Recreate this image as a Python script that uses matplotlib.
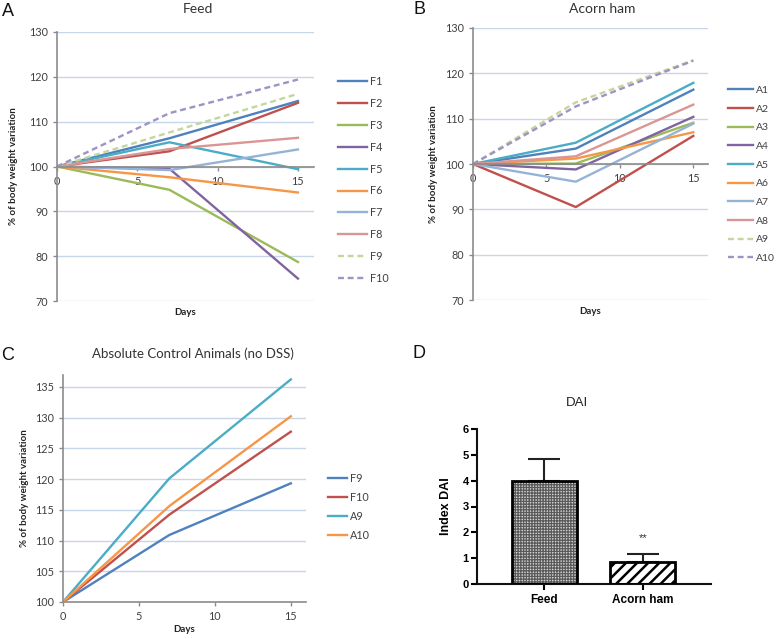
import matplotlib
matplotlib.use('Agg')
import matplotlib.pyplot as plt

# ---------------- data ----------------
days = [0, 7, 15]

feed_labels = ['F1', 'F2', 'F3', 'F4', 'F5', 'F6', 'F7', 'F8', 'F9', 'F10']
feed_values = [
    [100, 106.3, 114.6],   # F1
    [100, 103.4, 114.2],   # F2
    [100, 94.8, 78.7],     # F3
    [100, 99.5, 75.0],     # F4
    [100, 105.4, 99.4],    # F5
    [100, 97.6, 94.2],     # F6
    [100, 99.2, 103.8],    # F7
    [100, 103.9, 106.4],   # F8
    [100, 107.6, 116.2],   # F9
    [100, 111.9, 119.4],   # F10
]

acorn_labels = ['A1', 'A2', 'A3', 'A4', 'A5', 'A6', 'A7', 'A8', 'A9', 'A10']
acorn_values = [
    [100, 103.4, 116.4],   # A1
    [100, 90.5, 106.2],    # A2
    [100, 100.1, 109.1],   # A3
    [100, 98.8, 110.4],    # A4
    [100, 104.7, 117.9],   # A5
    [100, 101.2, 107.0],   # A6
    [100, 96.1, 108.9],    # A7
    [100, 101.7, 113.1],   # A8
    [100, 113.6, 122.9],   # A9
    [100, 112.7, 122.8],   # A10
]

control_labels = ['F9', 'F10', 'A9', 'A10']
control_values = [
    [100, 110.9, 119.3],
    [100, 114.2, 127.7],
    [100, 120.1, 136.2],
    [100, 115.6, 130.2],
]

dai_groups = ['Feed', 'Acorn ham']
dai_means = [3.98, 0.86]
dai_sem = [0.86, 0.31]

# ---------------- styles ----------------
line_colors = ['#4F81BD', '#C0504D', '#9BBB59', '#8064A2', '#4BACC6',
               '#F79646', '#95B3D7', '#DA9694', '#C3D69B', '#A092C4']
line_styles = ['-'] * 8 + ['--', '--']
control_colors = ['#4F81BD', '#C0504D', '#4BACC6', '#F79646']

W, H = 778, 639
fig = plt.figure(figsize=(W / 100, H / 100), dpi=100)

def add_axes(l, t, r, b):
    return fig.add_axes([l / W, 1 - b / H, (r - l) / W, (b - t) / H])

XL_FONT = 'Lato'
GRID = '#c8d6ea'
AXC = '#8c8c8c'
TXT = '#404040'

def excel_style(ax, ylim, yticks, cross):
    ax.set_xlim(0, 16)
    ax.set_ylim(*ylim)
    ax.set_yticks(yticks)
    ax.set_xticks([0, 5, 10, 15])
    ax.grid(axis='y', color=GRID, lw=1.0)
    ax.set_axisbelow(True)
    for s in ['top', 'right']:
        ax.spines[s].set_visible(False)
    ax.spines['left'].set_color(AXC)
    ax.spines['bottom'].set_color(AXC)
    ax.spines['left'].set_linewidth(1.2)
    ax.spines['bottom'].set_linewidth(1.2)
    ax.spines['bottom'].set_position(('data', cross))
    ax.tick_params(axis='both', colors=AXC, labelcolor=TXT, length=3,
                   width=1, labelsize=7.8, direction='out')
    for lab in ax.get_xticklabels() + ax.get_yticklabels():
        lab.set_fontfamily(XL_FONT)

def panel_lines(ax, labels, values, colors, styles, lw=1.7):
    for lab, vals, c, ls in zip(labels, values, colors, styles):
        if ls == '--':
            ax.plot(days, vals, color=c, lw=lw, ls=(0, (2.5, 1.6)), label=lab)
        else:
            ax.plot(days, vals, color=c, lw=lw, ls=ls, label=lab)

def labels_xy(ax, ylab_x, days_y):
    ax.set_ylabel('% of body weight variation', fontfamily=XL_FONT,
                  fontweight='bold', fontsize=7, color='#222222')
    ax.yaxis.set_label_coords(ylab_x, 0.5)
    ax.set_xlabel('Days', fontfamily=XL_FONT, fontweight='bold',
                  fontsize=7, color='#222222')
    ax.xaxis.set_label_coords(0.5, days_y)

def legend(ax, x, y, hl, ls, size=7.8):
    leg = ax.legend(loc='center left', bbox_to_anchor=(x, y), frameon=False,
                    borderaxespad=0, borderpad=0, handlelength=hl,
                    handletextpad=0.25, labelspacing=ls,
                    prop={'family': XL_FONT, 'size': size})
    for t in leg.get_texts():
        t.set_color(TXT)

# ---------------- A ----------------
axA = add_axes(57, 32, 314, 301)
excel_style(axA, (70, 130), [70, 80, 90, 100, 110, 120, 130], 100)
panel_lines(axA, feed_labels, feed_values, line_colors, line_styles)
labels_xy(axA, -0.150, -0.025)
legend(axA, 1.093, 0.45, 2.7, 1.0)

# ---------------- B ----------------
axB = add_axes(473, 28, 708, 300)
excel_style(axB, (70, 130), [70, 80, 90, 100, 110, 120, 130], 100)
panel_lines(axB, acorn_labels, acorn_values, line_colors, line_styles)
labels_xy(axB, -0.150, -0.025)
legend(axB, 1.085, 0.462, 2.4, 0.9, size=7.5)

# ---------------- C ----------------
axC = add_axes(63, 374.5, 306, 602)
excel_style(axC, (100, 137), [100, 105, 110, 115, 120, 125, 130, 135], 100)
panel_lines(axC, control_labels, control_values, control_colors, ['-'] * 4)
labels_xy(axC, -0.14, -0.10)
legend(axC, 1.09, 0.418, 1.8, 0.74)

# ---------------- D ----------------
axD = add_axes(477, 429, 711, 584)
xpos = list(range(len(dai_groups)))
plt.rcParams['hatch.linewidth'] = 0.9
axD.bar(xpos[0], dai_means[0], width=0.66, color='#d4d4d4',
        edgecolor='#5a5a5a', hatch='++++++', lw=0, zorder=2)
plt.rcParams['hatch.linewidth'] = 1.8
axD.bar(xpos[1], dai_means[1], width=0.66, color='white',
        edgecolor='black', hatch='///', lw=0, zorder=2)
axD.bar(xpos, dai_means, width=0.66, fill=False, edgecolor='black',
        lw=2.0, zorder=3)
axD.errorbar(xpos, dai_means, yerr=[[0, 0], dai_sem], fmt='none',
             ecolor='#222222', elinewidth=1.5, capsize=11.5, capthick=1.5,
             zorder=1)
axD.text(xpos[1], 1.78, '**', ha='center', va='center', fontsize=8,
         fontfamily='Liberation Sans', color='#333333')
axD.set_xlim(-0.68, 1.69)
axD.set_ylim(0, 6)
axD.set_yticks(range(0, 7))
axD.set_xticks(xpos)
axD.set_xticklabels(dai_groups)
for s in ['top', 'right']:
    axD.spines[s].set_visible(False)
for s in ['left', 'bottom']:
    axD.spines[s].set_linewidth(1.5)
    axD.spines[s].set_color('#111111')
axD.tick_params(axis='y', length=4, width=1.5, labelsize=8, pad=2)
axD.tick_params(axis='x', length=4, width=1.5, labelsize=8.5, pad=3)
for lab in axD.get_xticklabels() + axD.get_yticklabels():
    lab.set_fontfamily('Liberation Sans')
    lab.set_fontweight('bold')
axD.set_ylabel('Index DAI', fontfamily='Liberation Sans', fontweight='bold',
               fontsize=9)
axD.yaxis.set_label_coords(-0.107, 0.5)

# ---------------- titles & letters ----------------
def ftxt(x, y, s, **kw):
    fig.text(x / W, 1 - y / H, s, ha='center', va='center', **kw)

ftxt(198, 9, 'Feed', fontfamily=XL_FONT, fontsize=10, color='#333333')
ftxt(602, 9, 'Acorn ham', fontfamily=XL_FONT, fontsize=10, color='#333333')
ftxt(193, 354, 'Absolute Control Animals (no DSS)', fontfamily=XL_FONT,
     fontsize=9.5, color='#333333')
ftxt(577, 403, 'DAI', fontfamily='Liberation Sans', fontsize=9.5,
     color='#222222')

for x, y, s in [(8, 11, 'A'), (419, 10, 'B'), (8, 355, 'C'), (419, 353, 'D')]:
    ftxt(x, y, s, fontfamily='Liberation Sans', fontsize=13, color='#111111')

fig.savefig('out.png', dpi=100)
